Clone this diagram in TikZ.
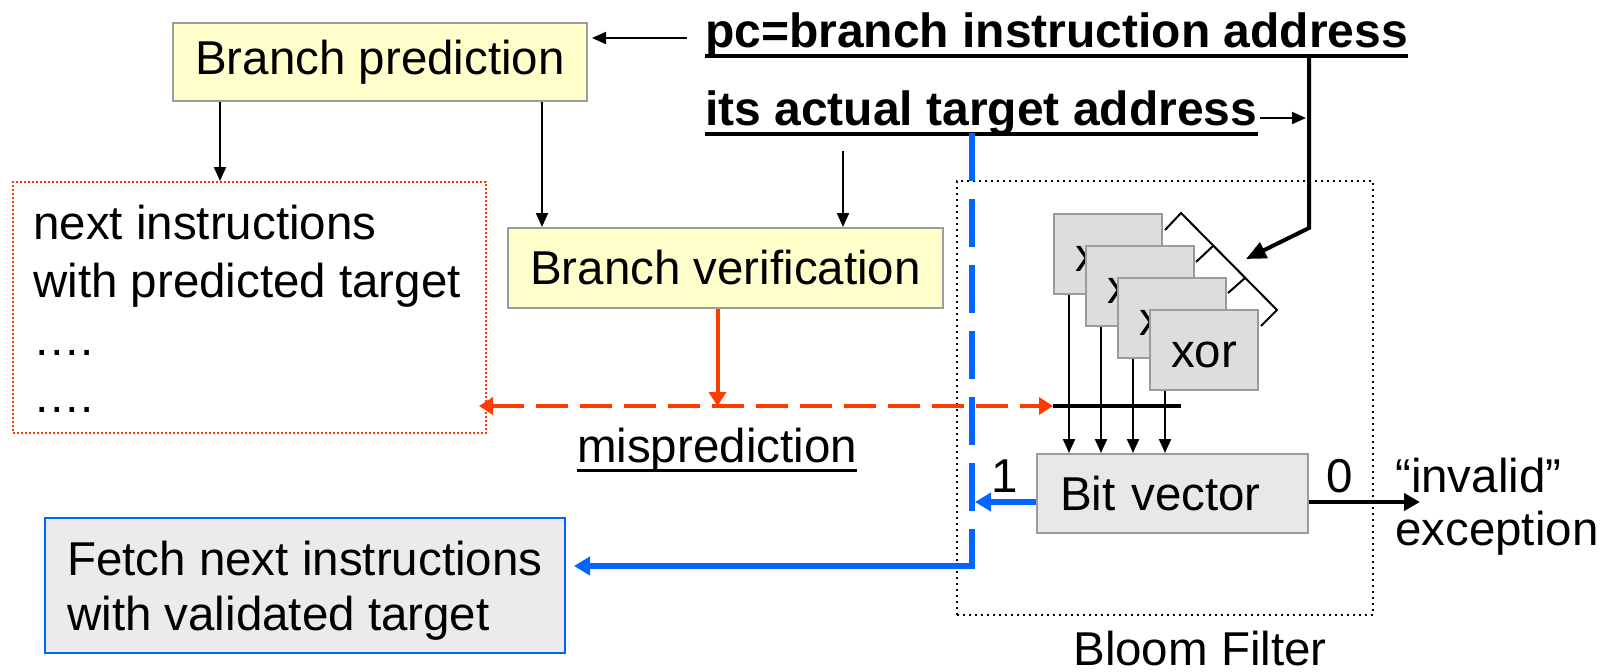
\documentclass[tikz,border=0pt]{standalone}
\usepackage{fontspec}
\setmainfont{Liberation Sans}
\usetikzlibrary{arrows.meta}
\definecolor{notefill}{HTML}{FFFFCC}
\definecolor{boxline}{HTML}{9C9C9C}
\definecolor{xorfill}{HTML}{DDDDDD}
\definecolor{vecfill}{HTML}{E8E8E8}
\definecolor{fetchfill}{HTML}{EBEBEB}
\definecolor{alarm}{HTML}{FF3C00}
\definecolor{valid}{HTML}{0066FF}
\newcommand\bodytext{\fontsize{47.5}{57}\selectfont}
\newcommand\headtext{\fontsize{48}{57}\selectfont\bfseries}
\tikzset{
  lbl/.style={font=\bodytext, inner sep=0pt, anchor=base west},
  notebox/.style={draw=boxline, line width=2pt, fill=notefill, font=\bodytext, inner sep=0pt},
  xorbox/.style={draw=boxline, line width=2pt, fill=xorfill, font=\bodytext, inner sep=0pt,
    text height=34pt, text depth=0pt,
    minimum width=108pt, minimum height=80pt, anchor=north west},
  thinarr/.style={line width=2pt, -{Triangle[length=14pt,width=12pt]}},
  thickarr/.style={line width=4pt, -{Triangle[length=16pt,width=17pt]}},
  redarr/.style={draw=alarm, line width=4pt, -{Triangle[length=14pt,width=17pt]}},
  reddash/.style={draw=alarm, line width=4pt, dash pattern=on 32pt off 12pt,
    {Triangle[length=14pt,width=17pt]}-{Triangle[length=14pt,width=17pt]}},
  bluedash/.style={draw=valid, line width=6pt, dash pattern=on 48pt off 18pt},
  bluearr/.style={draw=valid, line width=6pt, -{Triangle[length=16pt,width=18pt]}},
}
\begin{document}
\begin{tikzpicture}[x=1pt, y=-1pt]
\useasboundingbox (0,0) rectangle (1612,672);

% addresses fed in at the top
\node[font=\headtext, inner sep=0pt, anchor=base west] (pc) at (705,47) {pc=branch instruction address};
\node[font=\headtext, inner sep=0pt, anchor=base west] (its) at (705,125) {its actual target address};
\draw[line width=4pt] ([yshift=-9pt]pc.base west) -- ([yshift=-9pt]pc.base east);
\draw[line width=4pt] ([yshift=-9pt]its.base west) -- ([yshift=-9pt]its.base east);

% predictor and verifier
\node[notebox, minimum width=414pt, minimum height=78pt] (bp) at (380,62) {Branch prediction};
\node[notebox, minimum width=435pt, minimum height=80pt] (bv) at (725.5,268) {Branch verification};

% speculative instruction stream
\node[draw=alarm, line width=2pt, dash pattern=on 2pt off 2pt, minimum width=473pt, minimum height=251pt, inner sep=0pt] (nxt) at (249.5,307.5) {};
\node[lbl] (n1) at (33,239) {next instructions};
\node[lbl] (n2) at (33,297) {with predicted target};
\node[lbl] (n3) at (33,355) {\char"2026.};
\node[lbl] (n4) at (33,412) {\char"2026.};

% validated fetch
\node[draw=valid, line width=2pt, fill=fetchfill, minimum width=520pt, minimum height=135pt, inner sep=0pt] (fetch) at (305,585.5) {};
\node[lbl] (f1) at (67,575) {Fetch next instructions};
\node[lbl] (f2) at (67,630) {with validated target};

% Bloom filter
\node[draw, line width=2pt, dash pattern=on 2pt off 4pt, minimum width=416pt, minimum height=434pt, inner sep=0pt] (bloom) at (1165,398) {};
\node[font=\bodytext, inner sep=0pt, anchor=base] (bloomlbl) at (1200,665) {Bloom Filter};

\node[xorbox] (x1) at (1053,213) {xor};
\node[xorbox] (x2) at (1085,245) {xor};
\node[xorbox] (x3) at (1117,277) {xor};
\node[xorbox] (x4) at (1149,309) {xor};

\node[draw=boxline, line width=2pt, fill=vecfill, font=\bodytext, minimum width=271pt, minimum height=79pt,
  text width=225pt, align=left, inner xsep=23pt, inner ysep=0pt] (bitvec) at (1172.5,493.5) {Bit vector};
\node[lbl, anchor=base] (one) at (1005,492) {1};
\node[lbl, anchor=base] (zero) at (1340,492) {0};
\node[lbl] (inv) at (1395,492) {\char"201C invalid\char"201D};
\node[lbl] (exc) at (1395,545) {exception};

% comb over the xor stack
\draw[line width=2pt, line join=miter] (1165,230) -- (1181,213) -- (1277,310) -- (1261,326);
\draw[line width=2pt] (1196,262) -- (1213,246);
\draw[line width=2pt] (1228,293) -- (1245,278);

% connection points
\coordinate (pcin) at (687,38);
\coordinate (itsout) at (1260,118);
\coordinate (drop) at (1309,57);
\coordinate (bend) at (1309,228);
\coordinate (combin) at (1246,259);
\coordinate (tgtdown) at (843,151);
\coordinate (barL) at (1053,406);
\coordinate (barR) at (1181,406);
\coordinate (bluetop) at (972,133);
\coordinate (bluecorner) at (972,566);
\coordinate (excin) at (1420,502);

% black connectors
\draw[thinarr] (pcin) -- ([xshift=4pt]pcin -| bp.east);
\draw[thinarr] (itsout) -- ([xshift=-3pt]itsout -| drop);
\draw[line width=4pt, line join=miter, -{Triangle[length=20pt,width=17pt]}] (drop) -- (bend) -- (combin);
\draw[thinarr] ([xshift=48pt]bp.south west) -- ([xshift=48pt]bp.south west |- nxt.north);
\draw[thinarr] ([xshift=-46pt]bp.south east) -- ([xshift=-46pt]bp.south east |- bv.north);
\draw[thinarr] (tgtdown) -- (tgtdown |- bv.north);
\foreach \k in {1,2,3,4}
  \draw[thinarr] ([xshift=16pt]x\k.south west) -- ([xshift=16pt]x\k.south west |- bitvec.north);
\draw[line width=4pt] (barL) -- (barR);
\draw[thickarr] ([yshift=-8.5pt]bitvec.east) -- (excin);

% misprediction path
\draw[redarr] ([xshift=-8pt]bv.south) -- ([xshift=-8pt]bv.south |- barL);
\draw[reddash] ([xshift=-8pt]nxt.east |- barL) -- (barL);
\node[font=\bodytext, inner sep=0pt, anchor=base] (mis) at (717,462) {misprediction};
\draw[line width=3pt] ([yshift=-8pt]mis.base west) -- ([yshift=-8pt]mis.base east);

% validated path
\draw[bluedash] (bluetop) -- (bluecorner);
\draw[bluearr] ([yshift=-8.5pt]bitvec.west) -- ([yshift=-8.5pt, xshift=3pt]bitvec.west -| bluetop);
\draw[bluearr] ([xshift=3pt]bluecorner) -- ([xshift=8pt]bluecorner -| fetch.east);
\end{tikzpicture}
\end{document}
